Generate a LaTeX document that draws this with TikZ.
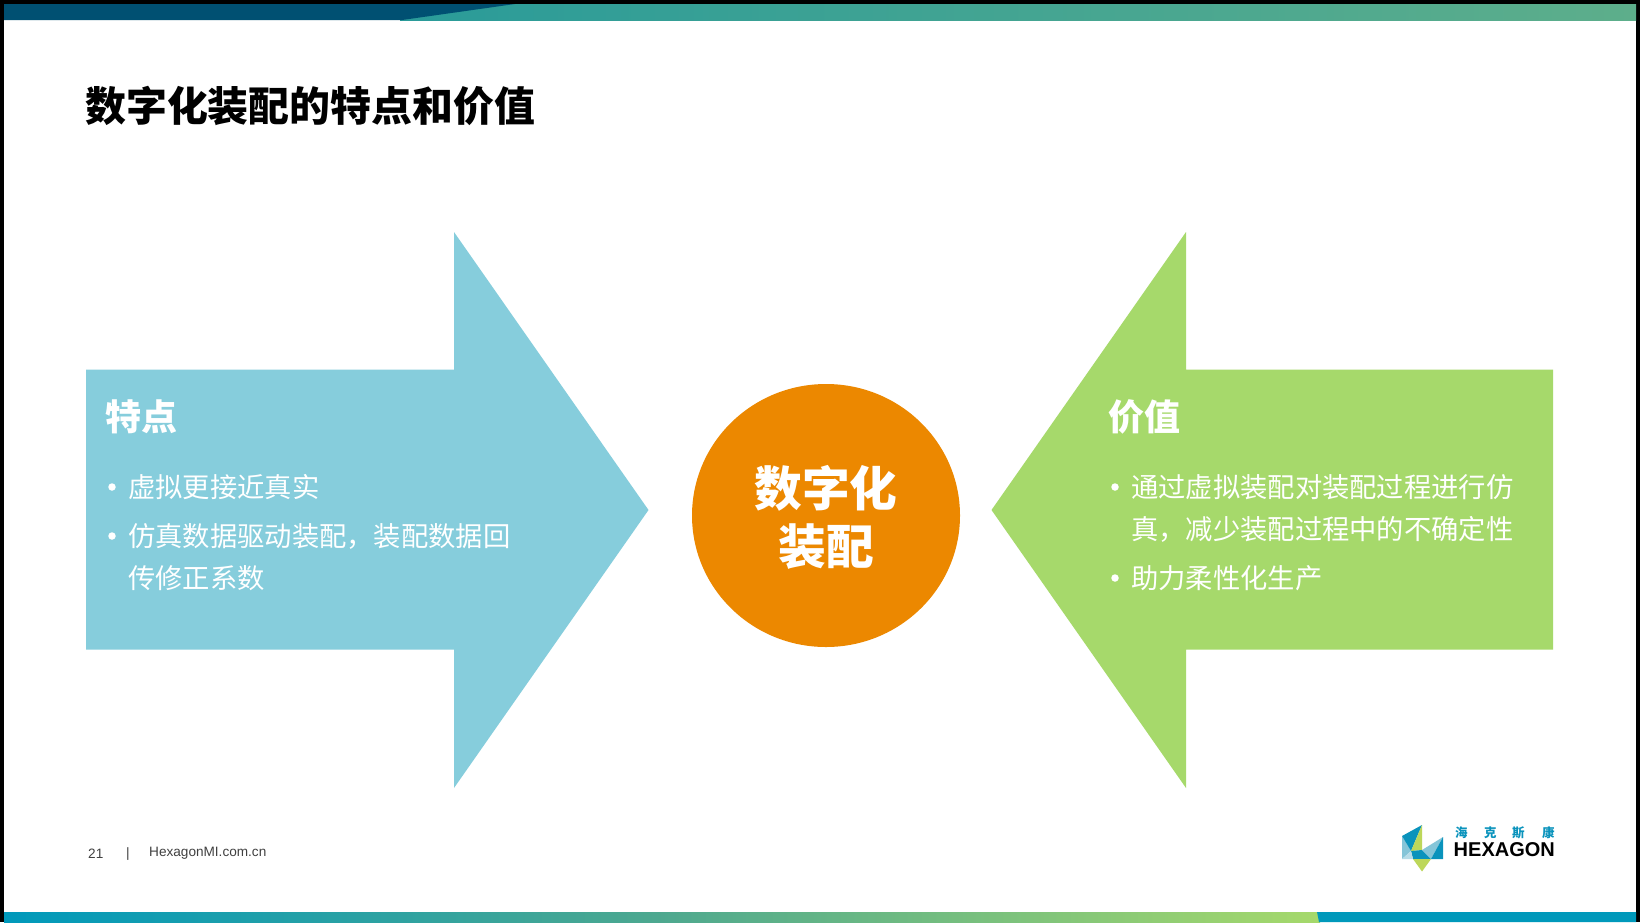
\documentclass[tikz,border=0pt]{standalone}
\usepackage{fontspec}
\setmainfont{Noto Sans CJK SC}
\newfontfamily\lat{Liberation Sans}
\definecolor{arrowblue}{HTML}{86CDDC}
\definecolor{arrowgreen}{HTML}{A6D96B}
\definecolor{circorange}{HTML}{EC8800}
\definecolor{banddark}{HTML}{005072}
\definecolor{bandteal}{HTML}{2A9B99}
\definecolor{bandgreen}{HTML}{5DAE8B}
\definecolor{botblue}{HTML}{0099BB}
\definecolor{botgreen}{HTML}{A6D96B}
\definecolor{logoblue}{HTML}{0A93BC}
\definecolor{logolight}{HTML}{85C5D8}
\definecolor{logogreen}{HTML}{BDD75A}
\tikzset{
  x=1pt,y=-1pt,
  heading/.style={anchor=west,text=white,font=\fontsize{36}{42}\selectfont\bfseries,inner sep=0pt},
  item/.style={anchor=west,text=white,font=\fontsize{27.3}{32}\selectfont,inner sep=0pt},
  dotmark/.style={circle,fill=white,inner sep=0pt,minimum size=7.5pt},
  footer/.style={anchor=west,text=black!75,font=\lat\fontsize{13.6}{16}\selectfont,inner sep=0pt},
  logocn/.style={anchor=west,inner sep=0pt,text=logoblue,font=\fontsize{12.5}{14}\selectfont\bfseries},
}
\begin{document}
\begin{tikzpicture}
\useasboundingbox (0,0) rectangle (1640,922);
\fill[black] (0,0) rectangle (1640,922);
\fill[white] (4,4) rectangle (1636,922);
% top band
\shade[left color=bandteal,right color=bandgreen] (400,4) rectangle (1636,20);
\fill[banddark] (4,4) -- (515,4) -- (402,20) -- (4,20) -- cycle;
% bottom band
\shade[left color=botblue,right color=botgreen,middle color=bandgreen!70!bandteal] (4,912) rectangle (1320,922);
\fill[botblue] (1317,912) -- (1636,912) -- (1636,922) -- (1319,922) -- cycle;
% title
\node[anchor=west,inner sep=0pt,font=\fontsize{40.9}{48}\selectfont\bfseries,text=black] (title) at (85,106) {数字化装配的特点和价值};
% arrows
\fill[arrowblue] (86,369.5) -- (454,369.5) -- (454,232) -- (648.5,510) -- (454,788) -- (454,649.5) -- (86,649.5) -- cycle;
\fill[arrowgreen] (1553,369.5) -- (1186,369.5) -- (1186,232) -- (991.5,510) -- (1186,788) -- (1186,649.5) -- (1553,649.5) -- cycle;
% circle
\fill[circorange] (826,515.5) ellipse [x radius=134,y radius=131.5];
\node[anchor=center,inner sep=0pt,text=white,align=center,font=\fontsize{47.7}{58}\selectfont\bfseries] (core) at (826,517.5) {数字化\\装配};
% left text
\node[heading] (lh) at (105,417) {特点};
\node[dotmark] (ld1) at (112,487) {};
\node[item] (l1) at (128,487) {虚拟更接近真实};
\node[dotmark] (ld2) at (112,536) {};
\node[item] (l2) at (128,536.5) {仿真数据驱动装配，装配数据回};
\node[item] (l3) at (128,578) {传修正系数};
% right text
\node[heading] (rh) at (1108.5,417) {价值};
\node[dotmark] (rd1) at (1115,487) {};
\node[item] (r1) at (1131,487) {通过虚拟装配对装配过程进行仿};
\node[item] (r2) at (1131,529) {真，减少装配过程中的不确定性};
\node[dotmark] (rd2) at (1115,578) {};
\node[item] (r3) at (1131,578) {助力柔性化生产};
% footer
\node[footer] (pg) at (88,853.5) {21};
\node[footer] (sep) at (126,853.5) {|};
\node[footer] (url) at (149,853.5) {HexagonMI.com.cn};
% logo
\fill[logolight] (1402,836) -- (1411,851) -- (1402,859) -- cycle;
\fill[logoblue] (1402,836) -- (1422,825) -- (1411,851) -- cycle;
\fill[logogreen] (1422,825) -- (1422,850) -- (1411,851) -- cycle;
\fill[logoblue] (1411,851) -- (1422,850) -- (1431,859) -- (1413,859) -- cycle;
\fill[logolight] (1422,850) -- (1443,837) -- (1431,859) -- cycle;
\fill[logoblue] (1443,837) -- (1443,859) -- (1431,859) -- cycle;
\fill[logolight!60] (1402,859) -- (1411,851) -- (1413,859) -- cycle;
\fill[logogreen] (1413,859) -- (1431,859) -- (1422,871.5) -- cycle;
\node[logocn] (logocn1) at (1455,833) {海};
\node[logocn] (logocn2) at (1484,833) {克};
\node[logocn] (logocn3) at (1512,833) {斯};
\node[logocn] (logocn4) at (1542,833) {康};
\node[anchor=west,inner sep=0pt,text=black,font=\lat\fontsize{20}{22}\selectfont\bfseries] (logoen) at (1453.5,850) {HEXAGON};
\end{tikzpicture}
\end{document}
